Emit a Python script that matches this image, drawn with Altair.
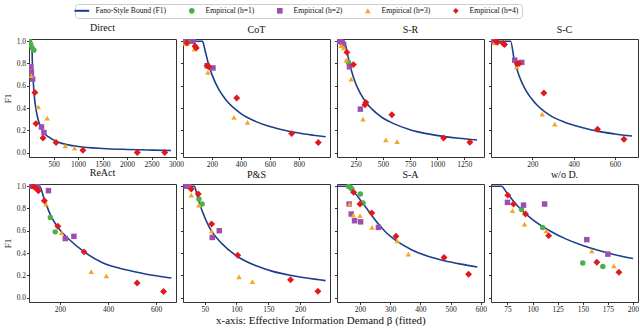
import altair as alt
import pandas as pd

SERIF = "Liberation Serif"

SERIES = ["Fano-Style Bound (F1)", "Empirical (h=1)", "Empirical (h=2)",
          "Empirical (h=3)", "Empirical (h=4)"]
KEYS = ["bound", "h1", "h2", "h3", "h4"]
COLORS = ["#1c3f8c", "#4daf4a", "#9b4fb0", "#f5a623", "#e0191c"]
LINE_GLYPH = "M-2.6,-0.36L2.6,-0.36L2.6,0.36L-2.6,0.36Z"
SHAPES = [LINE_GLYPH, "circle", "square", "triangle-up", "diamond"]

PANEL_TITLES = ["Direct", "CoT", "S-R", "S-C", "ReAct", "P&S", "S-A", "w/o D."]

DIRECT = {
    "bound": [(5, 1.0), (55, 1.0), (70, 0.79), (100, 0.55), (150, 0.37), (200, 0.275),
              (300, 0.18), (400, 0.14), (600, 0.092), (800, 0.069), (1000, 0.055),
              (1500, 0.037), (2000, 0.028), (2500, 0.022), (2900, 0.019)],
    "h1": [(10, 1.0), (35, 0.97), (65, 0.94), (100, 0.92)],
    "h2": [(35, 0.77), (50, 0.72), (75, 0.66), (255, 0.23), (305, 0.18)],
    "h3": [(45, 0.69), (110, 0.55), (190, 0.41), (370, 0.31), (740, 0.06), (930, 0.04)],
    "h4": [(120, 0.54), (141, 0.26), (285, 0.13), (552, 0.09), (1100, 0.02),
           (2210, 0.0), (2770, 0.0)],
}
COT = {
    "bound": [(5, 1.0), (135, 1.0), (150, 0.93), (175, 0.8), (200, 0.7), (250, 0.56),
              (300, 0.467), (400, 0.35), (500, 0.28), (600, 0.233), (700, 0.2),
              (800, 0.175), (900, 0.156), (985, 0.142)],
    "h1": [(15, 1.0), (60, 1.0)],
    "h2": [(20, 1.0), (69, 1.0), (167, 0.78), (207, 0.76)],
    "h3": [(8, 0.98), (31, 0.98), (78, 0.93), (172, 0.72), (352, 0.315), (445, 0.27)],
    "h4": [(27, 0.985), (83, 0.955), (92, 0.94), (167, 0.78), (179, 0.77), (371, 0.49),
           (750, 0.17), (934, 0.09)],
}
SR = {
    "bound": [(85, 1.0), (140, 1.0), (160, 0.95), (180, 0.86), (210, 0.74), (250, 0.62),
              (300, 0.52), (345, 0.45), (400, 0.39), (500, 0.31), (600, 0.26),
              (750, 0.205), (900, 0.17), (1059, 0.145), (1200, 0.128), (1367, 0.112)],
    "h1": [(184, 0.81)],
    "h2": [(93, 1.0), (109, 1.0), (124, 0.99), (139, 0.97), (193, 0.77), (293, 0.39)],
    "h3": [(118, 0.96), (139, 0.94), (163, 0.83), (208, 0.66), (317, 0.30), (528, 0.113),
           (631, 0.098)],
    "h4": [(169, 0.90), (229, 0.79), (335, 0.43), (344, 0.45), (583, 0.34), (1059, 0.13),
           (1301, 0.092)],
}
SC = {
    "bound": [(5, 1.0), (95, 1.0), (112, 0.84), (136, 0.69), (168, 0.56), (216, 0.44),
              (280, 0.34), (360, 0.27), (440, 0.225), (520, 0.19), (600, 0.167),
              (683, 0.148)],
    "h1": [(8, 1.0)],
    "h2": [(10, 1.0), (115, 0.83), (149, 0.81)],
    "h3": [(16, 0.985), (125, 0.77), (248, 0.345), (309, 0.256)],
    "h4": [(24, 1.0), (31, 0.99), (59, 0.98), (66, 0.97), (128, 0.80), (136, 0.80),
           (256, 0.535), (516, 0.21), (644, 0.12)],
}
REACT = {
    "bound": [(72, 1.0), (115, 1.0), (135, 0.88), (163, 0.73), (199, 0.61), (234, 0.53),
              (304, 0.405), (375, 0.315), (445, 0.265), (516, 0.23), (586, 0.2),
              (664, 0.175)],
    "h1": [(160, 0.72), (180, 0.59)],
    "h2": [(79, 1.0), (93, 1.0), (107, 1.0), (152, 0.96), (222, 0.53), (258, 0.55)],
    "h3": [(100, 0.98), (142, 0.84), (206, 0.58), (330, 0.233), (393, 0.195)],
    "h4": [(89, 1.0), (104, 0.975), (110, 0.96), (135, 0.87), (191, 0.64), (300, 0.41),
           (521, 0.13), (631, 0.055)],
}
PS = {
    "bound": [(17, 1.0), (34, 1.0), (38, 0.92), (46, 0.78), (57, 0.635), (78, 0.48),
              (104, 0.36), (131, 0.285), (157, 0.235), (184, 0.2), (210, 0.175),
              (240, 0.152)],
    "h1": [(41, 0.886), (46, 0.84)],
    "h2": [(21, 1.0), (25, 1.0), (62, 0.54), (73, 0.60)],
    "h3": [(28, 0.99), (29, 0.92), (41, 0.83), (61, 0.60), (104, 0.186), (125, 0.144)],
    "h4": [(29, 0.975), (40, 0.93), (61, 0.66), (102, 0.38), (185, 0.16), (228, 0.057)],
}
SA = {
    "bound": [(124, 1.0), (157, 1.0), (179, 0.95), (206, 0.86), (233, 0.76), (261, 0.66),
              (288, 0.58), (315, 0.52), (370, 0.43), (425, 0.37), (479, 0.33),
              (534, 0.30), (588, 0.275)],
    "h1": [(162, 0.997), (168, 0.99), (173, 0.975), (201, 0.93), (210, 0.85)],
    "h2": [(164, 0.84), (171, 0.75), (182, 0.69), (202, 0.68), (261, 0.63)],
    "h3": [(166, 0.84), (178, 0.74), (200, 0.735), (240, 0.63), (323, 0.51), (360, 0.39)],
    "h4": [(179, 0.945), (200, 0.84), (239, 0.76), (319, 0.55), (478, 0.36), (559, 0.21)],
}
WOD = {
    "bound": [(58.6, 1.0), (69, 1.0), (74, 0.946), (84, 0.833), (100, 0.7), (117, 0.6),
              (133, 0.527), (150, 0.467), (166, 0.422), (182, 0.385), (200, 0.35)],
    "h1": [(89, 0.79), (110, 0.63), (150, 0.31), (170, 0.28)],
    "h2": [(75, 0.855), (91, 0.83), (112, 0.84), (154, 0.52), (175, 0.39)],
    "h3": [(80, 0.78), (92, 0.66), (113.5, 0.6), (159, 0.42), (181, 0.285)],
    "h4": [(75.3, 0.92), (81, 0.84), (93, 0.75), (116, 0.556), (164, 0.317), (186, 0.227)],
}

PANEL_DATA = [DIRECT, COT, SR, SC, REACT, PS, SA, WOD]
X_DOMAINS = [[0, 3000], [0, 1015], [78, 1431], [0, 712],
             [71, 683], [16, 247], [124, 610], [58.6, 205]]
X_TICKS = [[500, 1000, 1500, 2000, 2500, 3000], [200, 400, 600, 800],
           [250, 500, 750, 1000, 1250], [200, 400, 600],
           [200, 400, 600], [50, 100, 150, 200], [200, 300, 400, 500, 600],
           [75, 100, 125, 150, 175, 200]]
Y_TICKS = [0.0, 0.2, 0.4, 0.6, 0.8, 1.0]

rows = []
for title, data in zip(PANEL_TITLES, PANEL_DATA):
    for i, k in enumerate(KEYS):
        for x, y in data[k]:
            rows.append({"panel": title, "series": SERIES[i], "x": x, "y": y})
df = pd.DataFrame(rows)

W, H = 147, 118

legend = alt.Legend(
    title=None, orient="none", legendX=46, legendY=-35, direction="horizontal",
    columns=5, columnPadding=21, gridAlign="none", labelFont=SERIF, labelFontSize=7.6,
    labelColor="#111", symbolSize=32, labelOffset=10, padding=3,
    strokeColor="#cccccc", fillColor="white", cornerRadius=3,
    symbolStrokeWidth=0,
)


def make_panel(idx):
    title = PANEL_TITLES[idx]
    first_col = idx % 4 == 0
    base = alt.Chart(df).transform_filter(alt.datum.panel == title)
    xenc = alt.X("x:Q",
                 scale=alt.Scale(domain=X_DOMAINS[idx], nice=False, zero=False),
                 axis=alt.Axis(values=X_TICKS[idx], title=None, labelFlush=False,
                               labelOverlap=False, format="d"))
    yenc = alt.Y("y:Q",
                 scale=alt.Scale(domain=[-0.04, 1.02], nice=False, zero=False),
                 axis=alt.Axis(values=Y_TICKS, format=".1f", labels=first_col,
                               title="F1" if first_col else None, labelFlush=False))
    line = base.transform_filter(alt.datum.series == SERIES[0]).mark_line(
        color=COLORS[0], strokeWidth=1.6, interpolate="monotone", clip=True
    ).encode(x=xenc, y=yenc)
    pts = base.transform_filter(alt.datum.series != SERIES[0]).mark_point(
        filled=True, opacity=1, clip=True
    ).encode(
        x=xenc, y=yenc,
        color=alt.Color("series:N", scale=alt.Scale(domain=SERIES, range=COLORS),
                        legend=legend),
        shape=alt.Shape("series:N", scale=alt.Scale(domain=SERIES, range=SHAPES),
                        legend=legend),
        size=alt.condition(alt.datum.series == SERIES[4], alt.value(48), alt.value(30)),
    )
    return alt.layer(line, pts, title=alt.Title(title)).properties(width=W, height=H)


chart = alt.concat(
    *[make_panel(i) for i in range(8)], columns=4,
    spacing={"row": 27, "column": 7}, bounds="flush",
    title=alt.Title("x-axis: Effective Information Demand \u03b2 (fitted)", orient="bottom",
                    anchor="middle", fontSize=11, font=SERIF, fontWeight="normal",
                    offset=1, color="#111"),
).properties(
    padding={"left": 2, "top": 3, "right": 0, "bottom": 0}
).configure(font=SERIF).configure_view(
    stroke="#333333", strokeWidth=1
).configure_axis(
    labelFont=SERIF, labelFontSize=7.5, labelColor="#222", tickColor="#333",
    tickSize=2.5, domain=False, grid=False, titleFont=SERIF, titleFontSize=9,
    titleFontWeight="normal", titleColor="#111", labelPadding=1, titlePadding=4
).configure_title(
    font=SERIF, fontSize=10, fontWeight="normal", color="#111", offset=4
)

chart.save("out.html", embed_options={"renderer": "svg", "actions": False})
